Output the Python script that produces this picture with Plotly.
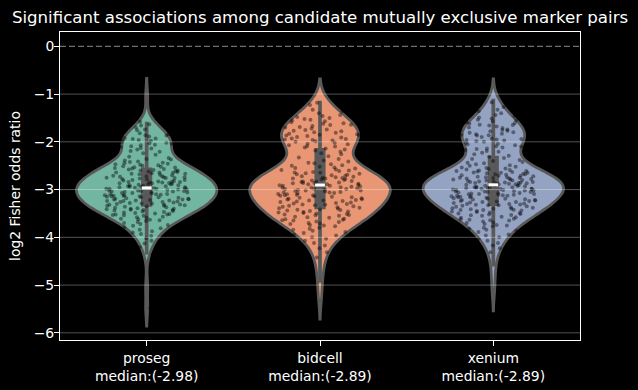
import colorsys
import numpy as np
import plotly.graph_objects as go

categories = ["proseg", "bidcell", "xenium"]
tick_text = ["proseg<br>median:(-2.98)", "bidcell<br>median:(-2.89)", "xenium<br>median:(-2.89)"]
y_ticks = [0, -1, -2, -3, -4, -5, -6]

proseg = [
    -1.05, -1.58, -1.63, -1.66, -1.70, -1.74, -1.76, -1.78, -1.82, -1.84,
    -1.86, -1.87, -1.89, -1.92, -1.93, -1.94,
    -1.96, -1.97, -1.98, -2.00, -2.02, -2.03, -2.04,
    -2.06, -2.07, -2.09, -2.11, -2.13, -2.14,
    -2.16, -2.19, -2.21, -2.24, -2.27, -2.31, -2.34,
    -2.36, -2.37, -2.39, -2.41, -2.42, -2.44,
    -2.45, -2.46, -2.47, -2.48, -2.49, -2.50, -2.51, -2.52, -2.53, -2.54,
    -2.55, -2.56, -2.57, -2.58, -2.59, -2.60, -2.60, -2.61, -2.62, -2.63, -2.64, -2.64,
    -2.65, -2.66, -2.67, -2.67, -2.68, -2.69, -2.70, -2.71, -2.72, -2.72, -2.73, -2.74, -2.74,
    -2.75, -2.76, -2.76, -2.77, -2.78, -2.79, -2.80, -2.80, -2.81, -2.82, -2.83, -2.83, -2.84, -2.84,
    -2.85, -2.85, -2.86, -2.87, -2.87, -2.88, -2.89, -2.89, -2.90, -2.91, -2.91, -2.92, -2.93, -2.93, -2.94, -2.94,
    -2.95, -2.95, -2.96, -2.97, -2.97, -2.98, -2.98, -2.99, -3.00, -3.00, -3.01, -3.02, -3.02, -3.03, -3.03, -3.04, -3.04,
    -3.05, -3.05, -3.06, -3.07, -3.07, -3.08, -3.09, -3.10, -3.10, -3.11, -3.12, -3.12, -3.13, -3.13, -3.14, -3.14,
    -3.15, -3.16, -3.16, -3.17, -3.18, -3.19, -3.19, -3.20, -3.21, -3.21, -3.22, -3.23, -3.23, -3.24, -3.24,
    -3.25, -3.26, -3.26, -3.27, -3.28, -3.29, -3.29, -3.30, -3.31, -3.32, -3.32, -3.33, -3.34, -3.34,
    -3.35, -3.36, -3.37, -3.38, -3.39, -3.40, -3.40, -3.41, -3.42, -3.43, -3.43, -3.44,
    -3.45, -3.46, -3.47, -3.48, -3.49, -3.50, -3.51, -3.52, -3.52, -3.53, -3.54,
    -3.55, -3.57, -3.58, -3.59, -3.61, -3.62, -3.63, -3.64,
    -3.66, -3.68, -3.70, -3.72, -3.74,
    -3.76, -3.79, -3.81, -3.84,
    -3.87, -3.90, -3.93, -3.97, -4.02, -4.07, -4.13, -4.21, -4.36,
    -5.03, -5.48,
]

bidcell = [
    -1.14, -1.18, -1.23, -1.27, -1.33, -1.36, -1.40, -1.44,
    -1.46, -1.48, -1.50, -1.52, -1.54,
    -1.55, -1.57, -1.59, -1.61, -1.62, -1.64,
    -1.65, -1.67, -1.69, -1.70, -1.72, -1.74,
    -1.75, -1.77, -1.78, -1.80, -1.81, -1.83, -1.84,
    -1.85, -1.86, -1.87, -1.88, -1.90, -1.91, -1.93, -1.94,
    -1.95, -1.96, -1.97, -1.99, -2.00, -2.02, -2.04,
    -2.05, -2.07, -2.09, -2.10, -2.12, -2.14,
    -2.16, -2.18, -2.21, -2.24,
    -2.26, -2.30, -2.33,
    -2.36, -2.39, -2.41, -2.44,
    -2.45, -2.47, -2.49, -2.50, -2.52, -2.54,
    -2.55, -2.56, -2.58, -2.59, -2.60, -2.61, -2.63, -2.64,
    -2.65, -2.66, -2.67, -2.68, -2.69, -2.70, -2.71, -2.72, -2.73, -2.74,
    -2.75, -2.76, -2.77, -2.77, -2.78, -2.79, -2.80, -2.81, -2.82, -2.83, -2.83, -2.84,
    -2.85, -2.86, -2.86, -2.87, -2.88, -2.89, -2.89, -2.90, -2.91, -2.92, -2.92, -2.93, -2.94,
    -2.95, -2.96, -2.96, -2.97, -2.98, -2.99, -2.99, -3.00, -3.01, -3.02, -3.02, -3.03, -3.04,
    -3.05, -3.06, -3.06, -3.07, -3.08, -3.09, -3.10, -3.11, -3.12, -3.12, -3.13, -3.14,
    -3.15, -3.16, -3.17, -3.18, -3.19, -3.20, -3.21, -3.22, -3.23, -3.23, -3.24,
    -3.25, -3.26, -3.27, -3.28, -3.29, -3.30, -3.31, -3.32, -3.33, -3.34,
    -3.35, -3.36, -3.37, -3.38, -3.39, -3.40, -3.41, -3.42, -3.43, -3.44,
    -3.45, -3.46, -3.47, -3.48, -3.49, -3.50, -3.51, -3.52, -3.53, -3.54,
    -3.55, -3.57, -3.58, -3.59, -3.61, -3.62, -3.63, -3.64,
    -3.65, -3.67, -3.68, -3.70, -3.71, -3.72, -3.74,
    -3.75, -3.77, -3.80, -3.82, -3.84,
    -3.86, -3.89, -3.91, -3.94, -3.96, -4.00, -4.03,
    -4.07, -4.12, -4.17, -4.23, -4.31, -4.42, -4.55, -4.72, -4.95, -5.25,
]

xenium = [
    -1.10, -1.17, -1.23, -1.27, -1.33, -1.36, -1.40, -1.44,
    -1.46, -1.49, -1.51, -1.54,
    -1.55, -1.57, -1.59, -1.61, -1.62, -1.64,
    -1.65, -1.66, -1.68, -1.70, -1.71, -1.73, -1.74,
    -1.75, -1.76, -1.77, -1.78, -1.80, -1.81, -1.83, -1.84,
    -1.85, -1.86, -1.87, -1.88, -1.90, -1.91, -1.93, -1.94,
    -1.95, -1.96, -1.97, -1.99, -2.00, -2.02, -2.04,
    -2.05, -2.07, -2.09, -2.10, -2.12, -2.14,
    -2.15, -2.17, -2.19, -2.21, -2.23,
    -2.26, -2.29, -2.31, -2.34,
    -2.36, -2.38, -2.40, -2.42, -2.44,
    -2.45, -2.47, -2.49, -2.50, -2.52, -2.54,
    -2.55, -2.56, -2.57, -2.58, -2.59, -2.60, -2.61, -2.61, -2.62, -2.63, -2.64,
    -2.65, -2.65, -2.66, -2.67, -2.68, -2.68, -2.69, -2.70, -2.71, -2.71, -2.72, -2.73, -2.74, -2.74,
    -2.75, -2.75, -2.76, -2.77, -2.77, -2.78, -2.79, -2.79, -2.80, -2.81, -2.81, -2.82, -2.83, -2.83, -2.84, -2.84,
    -2.85, -2.85, -2.86, -2.86, -2.87, -2.88, -2.88, -2.89, -2.89, -2.90, -2.91, -2.91, -2.92, -2.92, -2.93, -2.94, -2.94,
    -2.95, -2.95, -2.96, -2.96, -2.97, -2.98, -2.98, -2.99, -2.99, -3.00, -3.01, -3.01, -3.02, -3.02, -3.03, -3.04, -3.04,
    -3.05, -3.05, -3.06, -3.07, -3.07, -3.08, -3.09, -3.09, -3.10, -3.11, -3.11, -3.12, -3.13, -3.13, -3.14, -3.14,
    -3.15, -3.16, -3.16, -3.17, -3.18, -3.19, -3.19, -3.20, -3.21, -3.22, -3.22, -3.23, -3.24, -3.24,
    -3.25, -3.26, -3.26, -3.27, -3.28, -3.29, -3.30, -3.30, -3.31, -3.32, -3.33, -3.33, -3.34,
    -3.35, -3.36, -3.37, -3.38, -3.39, -3.40, -3.40, -3.41, -3.42, -3.43, -3.43, -3.44,
    -3.45, -3.46, -3.47, -3.48, -3.49, -3.50, -3.51, -3.52, -3.53, -3.54,
    -3.55, -3.57, -3.58, -3.59, -3.61, -3.62, -3.63, -3.64,
    -3.65, -3.67, -3.69, -3.70, -3.72, -3.74,
    -3.75, -3.77, -3.80, -3.82, -3.84,
    -3.86, -3.89, -3.91, -3.94, -3.96, -4.00, -4.03,
    -4.07, -4.12, -4.17, -4.23, -4.31, -4.42, -4.61, -4.83, -5.12,
]

series = [proseg, bidcell, xenium]
bandwidths = [0.19, 0.23, 0.21]
base_colors = ["#66c2a5", "#fc8d62", "#8da0cb"]


def desaturate(hex_color, prop=0.75):
    r, g, b = (int(hex_color[i:i + 2], 16) / 255 for i in (1, 3, 5))
    h, l, s = colorsys.rgb_to_hls(r, g, b)
    r, g, b = colorsys.hls_to_rgb(h, l, s * prop)
    return "rgb({:.0f},{:.0f},{:.0f})".format(r * 255, g * 255, b * 255)


fill_colors = [desaturate(c) for c in base_colors]
edge_gray = "#595959"
font_family = "DejaVu Sans"

fig = go.Figure()
for cat, vals, bw, fc in zip(categories, series, bandwidths, fill_colors):
    fig.add_trace(go.Violin(
        x=[cat] * len(vals), y=vals, name=cat,
        fillcolor=fc, opacity=1,
        line=dict(color=edge_gray, width=2.8),
        bandwidth=bw, spanmode="soft", width=0.81, scalemode="width",
        points="all", jitter=0.6, pointpos=0,
        marker=dict(color="black", opacity=0.42, size=4, line=dict(width=0)),
        box=dict(visible=True, width=0.053, fillcolor=edge_gray,
                 line=dict(color=edge_gray, width=3.7)),
        meanline=dict(visible=False),
        showlegend=False, hoverinfo="skip",
    ))

fig.add_trace(go.Scatter(
    x=categories, y=[float(np.median(v)) for v in series], mode="markers",
    marker=dict(symbol="line-ew", size=7, line=dict(color="white", width=3)),
    showlegend=False, hoverinfo="skip",
))

shapes = []
for t in y_ticks:
    if t == 0:
        continue
    shapes.append(dict(type="line", xref="paper", x0=0, x1=1, yref="y", y0=t, y1=t,
                       line=dict(color="rgba(255,255,255,0.32)", width=1), layer="above"))
shapes.append(dict(type="line", xref="paper", x0=0, x1=1, yref="y", y0=0, y1=0,
                   line=dict(color="#707070", width=1.3, dash="6px,3px"), layer="above"))

fig.update_layout(
    width=638, height=390, autosize=False,
    margin=dict(l=60, r=58, t=32, b=50, pad=0),
    paper_bgcolor="black", plot_bgcolor="black",
    violinmode="overlay",
    font=dict(family=font_family, color="white", size=13.9),
    title=dict(text="Significant associations among candidate mutually exclusive marker pairs",
               x=0.5, xref="paper", xanchor="center", y=1 - 17.5 / 390, yref="container",
               yanchor="middle", font=dict(family=font_family, size=16.6, color="white")),
    shapes=shapes,
    xaxis=dict(type="category", categoryorder="array", categoryarray=categories,
               range=[-0.5, 2.5], tickmode="array", tickvals=categories, ticktext=tick_text,
               showgrid=False, zeroline=False, showline=True, mirror=True, automargin=False,
               linecolor="white", linewidth=1, ticks="outside", ticklen=5, tickwidth=1,
               tickcolor="white", tickfont=dict(family=font_family, size=13.9, color="white")),
    yaxis=dict(range=[-6.15, 0.30], tickmode="array", tickvals=y_ticks,
               showgrid=False, zeroline=False, showline=True, mirror=True, automargin=False,
               linecolor="white", linewidth=1, ticks="outside", ticklen=5, tickwidth=1,
               tickcolor="white", ticklabelstandoff=-3,
               tickfont=dict(family=font_family, size=13.9, color="white"),
               title=dict(text="log2 Fisher odds ratio", standoff=9,
                          font=dict(family=font_family, size=13.9, color="white"))),
)

fig.write_html("out.html", config={"displayModeBar": False},
               post_script="document.body.style.margin='0';document.body.style.padding='0';"
                           "document.body.style.overflow='hidden';")
